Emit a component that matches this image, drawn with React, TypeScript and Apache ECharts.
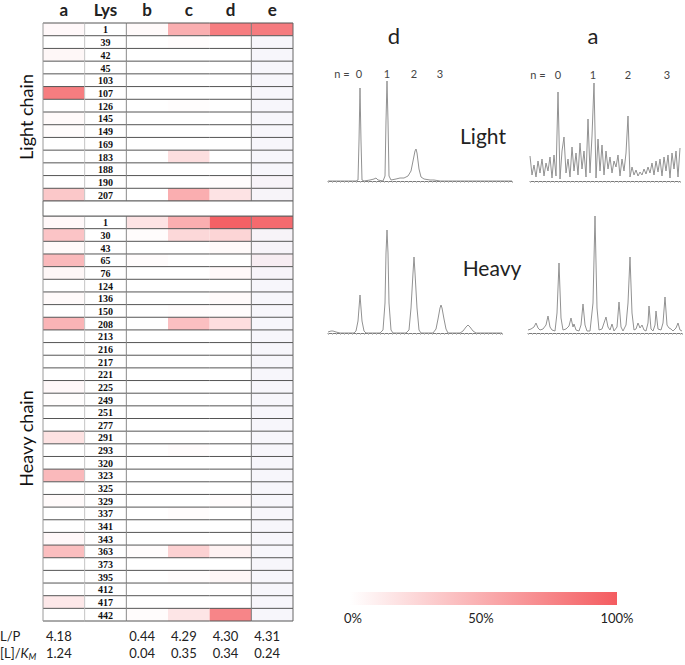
import React, { useEffect, useRef } from "react";
import * as echarts from "echarts";

// ---------- table data ----------
const COLUMNS = ["a", "Lys", "b", "c", "d", "e"];
const LIGHT_LYS = ["1", "39", "42", "45", "103", "107", "126", "145", "149", "169", "183", "188", "190", "207"];
const HEAVY_LYS = ["1", "30", "43", "65", "76", "124", "136", "150", "208", "213", "216", "217", "221", "225", "249", "251",
  "277", "291", "293", "320", "323", "325", "329", "337", "341", "343", "363", "373", "395", "412", "417", "442"];

// relative modification (%) per column
const LIGHT_A = [4, 0, 5, 0, 0, 80, 0, 3, 2, 0, 0, 0, 0, 34];
const LIGHT_B = [3, 0, 0, 0, 0, 0, 0, 0, 0, 0, 0, 0, 0, 0];
const LIGHT_C = [50, 2, 0, 0, 0, 0, 1, 0, 0, 0, 20, 0, 0, 50];
const LIGHT_D = [80, 0, 0, 0, 0, 0, 0, 0, 0, 0, 0, 0, 2, 17];
const LIGHT_E = [80, 0, 0, 0, 0, 0, 0, 0, 0, 0, 0, 0, 2, 1];

const HEAVY_A = [4, 36, 3, 43, 5, 0, 3, 0, 46, 0, 0, 0, 0, 4, 1, 0, 0, 18, 0, 0, 43, 0, 3, 0, 0, 4, 40, 0, 0, 0, 14, 0];
const HEAVY_B = [17, 2, 0, 2, 0, 0, 0, 0, 0, 0, 0, 0, 0, 0, 0, 0, 0, 0, 0, 0, 0, 0, 0, 0, 0, 0, 2, 0, 0, 0, 0, 2];
const HEAVY_C = [50, 24, 0, 0, 0, 0, 0, 2, 39, 0, 0, 0, 0, 0, 0, 0, 0, 0, 2, 0, 0, 0, 0, 2, 0, 0, 28, 0, 2, 0, 0, 16];
const HEAVY_D = [97, 26, 3, 0, 4, 0, 3, 2, 20, 0, 0, 0, 0, 0, 0, 0, 0, 0, 0, 0, 0, 0, 2, 0, 0, 0, 8, 0, 5, 0, 0, 75];
const HEAVY_E = [91, 2, 1, 6, 1, 0, 0, 0, 0, 0, 0, 0, 0, 0, 0, 0, 0, 0, 0, 0, 0, 0, 0, 0, 0, 0, 0, 0, 0, 0, 0, 0];

const LP = ["4.18", "", "0.44", "4.29", "4.30", "4.31"];
const LKM = ["1.24", "", "0.04", "0.35", "0.34", "0.24"];

const COLORBAR_TICKS = ["0%", "50%", "100%"];

// ---------- spectra (x offset, intensity) ----------
const SPEC_D_LIGHT = [[0, 0], [28, 0], [30, 1], [31, 40], [32, 93], [33, 40], [34, 1], [36, 0], [42, 1], [46, 2], [48, 3], [50, 1],
  [55, 0], [57, 5], [58, 60], [59, 100], [60, 60], [61, 5], [63, 1], [68, 2], [72, 3], [76, 3], [80, 5], [83, 10], [85, 20],
  [87, 30], [88, 32], [89, 28], [91, 12], [93, 4], [96, 2], [102, 1], [106, 1], [112, 0], [184, 0]];

// sampled every 2 units
const SPEC_A_LIGHT = [25, 6, 16, 4, 20, 8, 22, 5, 18, 10, 24, 3, 26, 5, 89, 2, 30, 44, 8, 22, 4, 34, 10, 28, 6, 38, 12, 30, 4, 62,
  8, 45, 98, 3, 42, 10, 36, 6, 30, 12, 24, 8, 20, 14, 26, 5, 22, 10, 28, 65, 4, 14, 6, 11, 5, 9, 6, 12, 7, 14,
  8, 18, 6, 20, 9, 22, 5, 24, 10, 26, 3, 28, 12, 30, 4, 33];

const SPEC_D_HEAVY = [[0, 1], [3, 2], [5, 2], [8, 1], [12, 0], [26, 0], [28, 2], [30, 12], [31, 25], [32, 38], [33, 25], [34, 12],
  [36, 2], [38, 0], [52, 0], [55, 3], [57, 30], [58, 80], [59, 103], [60, 80], [61, 30], [63, 3], [65, 0], [78, 0], [81, 3],
  [83, 25], [85, 60], [86, 76], [87, 60], [89, 25], [91, 3], [93, 0], [105, 0], [108, 4], [110, 14], [112, 25], [113, 28],
  [114, 25], [116, 14], [118, 4], [120, 0], [132, 0], [135, 2], [138, 6], [140, 8], [142, 6], [145, 2], [148, 0], [174, 0]];

const SPEC_A_HEAVY = [[0, 3], [3, 4], [6, 6], [8, 10], [10, 5], [12, 3], [15, 4], [18, 8], [20, 17], [22, 6], [24, 3], [27, 2],
  [29, 20], [31, 70], [33, 15], [35, 3], [38, 4], [41, 7], [43, 15], [45, 6], [46, 9], [48, 3], [51, 2], [53, 8], [55, 29],
  [57, 8], [59, 2], [62, 2], [65, 30], [67, 117], [69, 25], [71, 3], [74, 4], [76, 10], [78, 16], [80, 6], [82, 3], [84, 9],
  [86, 2], [89, 6], [91, 31], [93, 6], [95, 2], [98, 8], [100, 30], [102, 76], [104, 20], [106, 3], [108, 4], [110, 10],
  [112, 5], [114, 8], [116, 3], [118, 2], [120, 10], [121, 27], [123, 4], [125, 2], [127, 8], [128, 22], [130, 4], [133, 3],
  [135, 10], [137, 36], [139, 8], [141, 5], [143, 4], [145, 2], [148, 5], [150, 10], [152, 3], [154, 2]];

const N_LABELS = ["0", "1", "2", "3"];

// ---------- styles ----------
const SANS = "Lato, 'Open Sans', sans-serif";
const RED = [244, 92, 96];
const WHITE = [255, 255, 255];
const E_BASE = [247, 246, 251];
const LINE_GREY = "#929292";

function cellColor(v: number, col: number) {
  if (col === 1) return "#ffffff";
  const base = col === 5 ? E_BASE : WHITE;
  const t = Math.max(0, Math.min(1, v / 100));
  const c = base.map((b, i) => Math.round(b + (RED[i] - b) * t));
  return `rgb(${c[0]},${c[1]},${c[2]})`;
}

function buildCells(rows: string[], cols: number[][]) {
  const out: number[][] = [];
  rows.forEach((_, r) => {
    COLUMNS.forEach((_c, ci) => {
      if (ci === 1) out.push([1, r, 0]);
      else {
        const src = cols[ci === 0 ? 0 : ci - 1];
        out.push([ci, r, src[r]]);
      }
    });
  });
  return out;
}

const RIGHT_BORDER: Record<number, string> = { 0: "#c4c4c4", 1: "#8a8a8a", 4: "#7a7a7a", 5: "#666666" };

function cellRenderer(rows: string[]) {
  return (params: any, api: any) => {
    const col = api.value(0);
    const row = api.value(1);
    const v = api.value(2);
    const c = api.coord([col, row]);
    const s = api.size([1, 1]);
    const x0 = c[0] - s[0] / 2;
    const y0 = c[1] - s[1] / 2;
    const children: any[] = [
      { type: "rect", shape: { x: x0, y: y0, width: s[0], height: s[1] }, style: { fill: cellColor(v, col) } },
    ];
    if (col === 1) {
      children.push({
        type: "text",
        style: {
          text: rows[row], x: c[0], y: c[1] + 0.5, align: "center", verticalAlign: "middle",
          font: "bold 10px 'Liberation Serif', 'DejaVu Serif', serif", fill: "#111",
        },
      });
    }
    return { type: "group", children };
  };
}

function borderRenderer() {
  return (params: any, api: any) => {
    const col = api.value(0);
    const row = api.value(1);
    const c = api.coord([col, row]);
    const s = api.size([1, 1]);
    const x0 = c[0] - s[0] / 2;
    const y0 = c[1] - s[1] / 2;
    const x1 = x0 + s[0];
    const y1 = y0 + s[1];
    const children: any[] = [
      { type: "line", shape: { x1: x0, y1: y1, x2: x1, y2: y1 }, style: { stroke: "#555", lineWidth: 1 } },
    ];
    if (row === 0) children.push({ type: "line", shape: { x1: x0, y1: y0, x2: x1, y2: y0 }, style: { stroke: "#555", lineWidth: 1 } });
    if (col === 0) children.push({ type: "line", shape: { x1: x0, y1: y0, x2: x0, y2: y1 }, style: { stroke: "#9a9a9a", lineWidth: 1 } });
    if (RIGHT_BORDER[col]) children.push({ type: "line", shape: { x1: x1, y1: y0, x2: x1, y2: y1 }, style: { stroke: RIGHT_BORDER[col], lineWidth: 1 } });
    return { type: "group", children };
  };
}

export default function App() {
  const ref = useRef<HTMLDivElement>(null);
  useEffect(() => {
    if (!ref.current) return;
    const chart = echarts.init(ref.current, null, { renderer: "svg" });

    const lightCells = buildCells(LIGHT_LYS, [LIGHT_A, LIGHT_B, LIGHT_C, LIGHT_D, LIGHT_E]);
    const heavyCells = buildCells(HEAVY_LYS, [HEAVY_A, HEAVY_B, HEAVY_C, HEAVY_D, HEAVY_E]);
    const specALight = SPEC_A_LIGHT.map((h, i) => [i * 2, h]);

    const tableX = (show: boolean, gi: number) => ({
      type: "category", data: COLUMNS, gridIndex: gi, position: "top",
      axisLine: { show: false }, axisTick: { show: false }, splitLine: { show: false },
      axisLabel: { show, fontFamily: SANS, fontWeight: "bold", fontSize: 17, color: "#222", margin: 5 },
    });
    const tableY = (rows: string[], gi: number) => ({
      type: "category", data: rows, gridIndex: gi, inverse: true, show: false,
    });
    const specX = (gi: number, max: number) => ({
      type: "value", gridIndex: gi, min: 0, max, interval: 4,
      axisLine: { show: true, lineStyle: { color: "#7a7a7a", width: 1 } },
      axisTick: { show: true, length: 2, lineStyle: { color: "#bdbdbd" } },
      axisLabel: { show: false }, splitLine: { show: false },
    });
    const specY = (gi: number, max: number) => ({ type: "value", gridIndex: gi, min: 0, max, show: false });

    const specLine = (gi: number, data: number[][]) => ({
      type: "line", xAxisIndex: gi, yAxisIndex: gi, data, showSymbol: false, symbol: "none",
      lineStyle: { color: LINE_GREY, width: 1 }, silent: true,
    });

    const option: any = {
      animation: false,
      grid: [
        { left: 43, top: 23, width: 250, height: 178, outerBoundsMode: "none", containLabel: false },
        { left: 43, top: 216, width: 250, height: 405, outerBoundsMode: "none", containLabel: false },
        { left: 328, top: 81, width: 184, height: 100, outerBoundsMode: "none", containLabel: false },
        { left: 530, top: 81, width: 150, height: 100, outerBoundsMode: "none", containLabel: false },
        { left: 328, top: 216, width: 174, height: 117, outerBoundsMode: "none", containLabel: false },
        { left: 528, top: 216, width: 154, height: 117, outerBoundsMode: "none", containLabel: false },
      ],
      xAxis: [tableX(true, 0), tableX(false, 1), specX(2, 184), specX(3, 150), specX(4, 174), specX(5, 154)],
      yAxis: [tableY(LIGHT_LYS, 0), tableY(HEAVY_LYS, 1), specY(2, 100), specY(3, 100), specY(4, 117), specY(5, 117)],
      series: [
        { type: "custom", xAxisIndex: 0, yAxisIndex: 0, data: lightCells, renderItem: cellRenderer(LIGHT_LYS), z: 2, silent: true },
        { type: "custom", xAxisIndex: 1, yAxisIndex: 1, data: heavyCells, renderItem: cellRenderer(HEAVY_LYS), z: 2, silent: true },
        { type: "custom", xAxisIndex: 0, yAxisIndex: 0, data: lightCells, renderItem: borderRenderer(), z: 3, silent: true },
        { type: "custom", xAxisIndex: 1, yAxisIndex: 1, data: heavyCells, renderItem: borderRenderer(), z: 3, silent: true },
        specLine(2, SPEC_D_LIGHT),
        specLine(3, specALight),
        specLine(4, SPEC_D_HEAVY),
        specLine(5, SPEC_A_HEAVY),
      ],
    };
    chart.setOption(option);

    // positions derived from the table scales
    const pL0 = chart.convertToPixel({ xAxisIndex: 0, yAxisIndex: 0 }, [0, 0]) as number[];
    const pL1 = chart.convertToPixel({ xAxisIndex: 0, yAxisIndex: 0 }, [1, 1]) as number[];
    const bw = pL1[0] - pL0[0];
    const bhL = pL1[1] - pL0[1];
    const left = pL0[0] - bw / 2;
    const right = left + bw * COLUMNS.length;
    const lightTop = pL0[1] - bhL / 2;
    const lightBottom = lightTop + bhL * LIGHT_LYS.length;
    const pH0 = chart.convertToPixel({ xAxisIndex: 1, yAxisIndex: 1 }, [0, 0]) as number[];
    const pH1 = chart.convertToPixel({ xAxisIndex: 1, yAxisIndex: 1 }, [1, 1]) as number[];
    const bhH = pH1[1] - pH0[1];
    const heavyTop = pH0[1] - bhH / 2;
    const heavyBottom = heavyTop + bhH * HEAVY_LYS.length;
    const colCenter = (i: number) => left + bw * (i + 0.5);

    const graphic: any[] = [];
    // gap row between chains
    graphic.push({
      type: "rect", shape: { x: left, y: lightBottom, width: right - left, height: heavyTop - lightBottom },
      style: { fill: "#fff", stroke: "#666", lineWidth: 1 }, z: 10,
    });
    // chain labels
    graphic.push({
      type: "text", x: 26, y: (lightTop + lightBottom) / 2 + 5, rotation: Math.PI / 2,
      style: { text: "Light chain", font: `18px ${SANS}`, fill: "#111", align: "center", verticalAlign: "middle" },
    });
    graphic.push({
      type: "text", x: 26, y: (heavyTop + heavyBottom) / 2 + 20, rotation: Math.PI / 2,
      style: { text: "Heavy chain", font: `18px ${SANS}`, fill: "#111", align: "center", verticalAlign: "middle" },
    });
    // bottom rows
    const row1 = heavyBottom + 15;
    const row2 = heavyBottom + 32;
    graphic.push({ type: "text", x: 0, y: row1, style: { text: "L/P", font: `13px ${SANS}`, fill: "#222", verticalAlign: "middle" } });
    graphic.push({
      type: "text", x: 0, y: row2,
      style: {
        text: "[L]/{k|K}{m|M}", font: `13px ${SANS}`, fill: "#222", verticalAlign: "middle",
        rich: { k: { fontStyle: "italic", fontSize: 13, fontFamily: SANS, fill: "#222" }, m: { fontStyle: "italic", fontSize: 9, fontFamily: SANS, fill: "#222", padding: [6, 0, 0, 0] } },
      },
    });
    COLUMNS.forEach((_, i) => {
      if (LP[i]) graphic.push({ type: "text", x: colCenter(i) - 5, y: row1, style: { text: LP[i], font: `13px ${SANS}`, fill: "#222", align: "center", verticalAlign: "middle" } });
      if (LKM[i]) graphic.push({ type: "text", x: colCenter(i) - 5, y: row2, style: { text: LKM[i], font: `13px ${SANS}`, fill: "#222", align: "center", verticalAlign: "middle" } });
    });

    // spectra titles / annotations
    const txt = (text: string, x: number, y: number, size: number, color = "#222") => ({
      type: "text", x, y, style: { text, font: `${size}px ${SANS}`, fill: color, align: "center", verticalAlign: "middle" },
    });
    graphic.push(txt("d", 394, 35, 22));
    graphic.push(txt("a", 593, 35, 22));
    graphic.push(txt("Light", 483, 135, 21));
    graphic.push(txt("Heavy", 492, 267, 21));
    graphic.push(txt("n =", 342, 73, 11, "#444"));
    const dN = [359, 387, 414, 440];
    N_LABELS.forEach((n, i) => graphic.push(txt(n, dN[i], 73, 11, "#444")));
    graphic.push(txt("n =", 538, 74, 11, "#444"));
    const aN = [558, 593, 628, 667];
    N_LABELS.forEach((n, i) => graphic.push(txt(n, aN[i], 74, 11, "#444")));

    // colour bar
    graphic.push({
      type: "rect", shape: { x: 350, y: 592, width: 267, height: 13 },
      style: {
        fill: new echarts.graphic.LinearGradient(0, 0, 1, 0, [
          { offset: 0, color: "rgb(255,255,255)" },
          { offset: 1, color: `rgb(${RED.join(",")})` },
        ]),
      },
    });
    const cbX = [353, 481, 617];
    COLORBAR_TICKS.forEach((t, i) => graphic.push(txt(t, cbX[i], 618, 13, "#222")));

    chart.setOption({ graphic });

    return () => chart.dispose();
  }, []);

  return <div ref={ref} style={{ position: "absolute", left: 0, top: 0, width: 685, height: 665, background: "#fff" }} />;
}
